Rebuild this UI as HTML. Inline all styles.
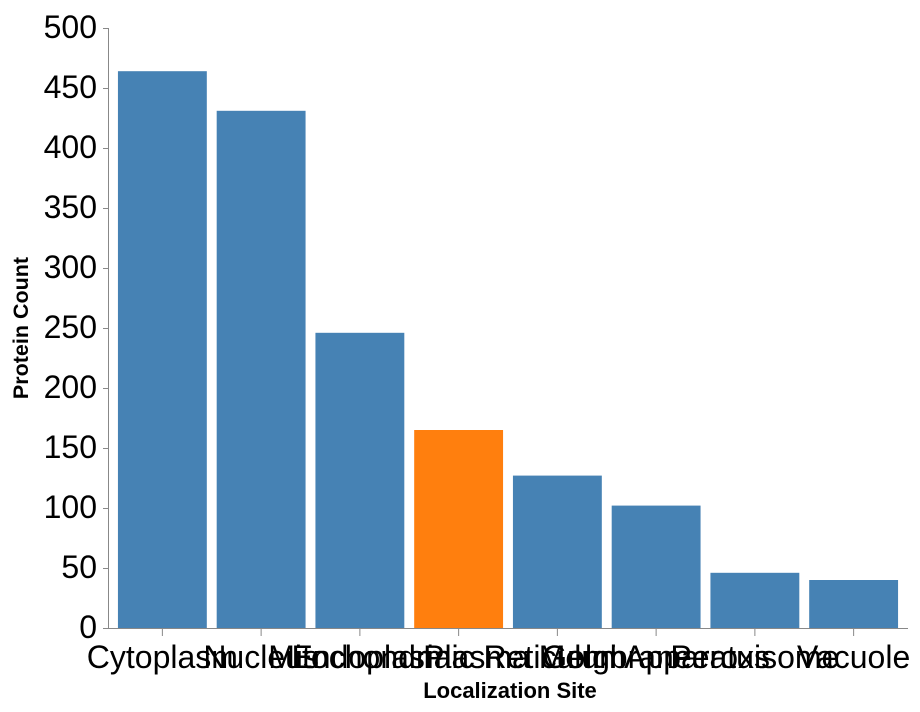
<!DOCTYPE html>
<html><head><meta charset="utf-8"><style>
html,body{margin:0;padding:0;background:#fff;}
svg{display:block;font-family:"Liberation Sans",Arial,sans-serif;}
</style></head><body>
<svg id="chart" width="920" height="712"></svg>
<script>
const categories = ["Cytoplasm","Nucleus","Mitochondria","Endoplasmic Reticulum","Plasma Membrane","Golgi Apparatus","Peroxisome","Vacuole"];
const counts = [464, 431, 246, 165, 127, 102, 46, 40];
const highlight = ["Endoplasmic Reticulum"];
const yTicks = [0,50,100,150,200,250,300,350,400,450,500];

const NS="http://www.w3.org/2000/svg";
const svg=document.getElementById('chart');
const x0=113, x1=903, yTop=28, yBot=628, yMax=500;
const step=(x1-x0)/categories.length, pad=0.1;
const bw=step*(1-pad);
function xBand(i){return x0+step*i+step*pad/2;}
function yScale(v){return yBot-(v/yMax)*(yBot-yTop);}
function mk(tag,attrs,parent){const e=document.createElementNS(NS,tag);for(const k in attrs)e.setAttribute(k,attrs[k]);(parent||svg).appendChild(e);return e;}

const bars=mk('g',{});


categories.forEach((c,i)=>{
  const r=mk('rect',{x:xBand(i),y:yScale(counts[i]),width:bw,height:yBot-yScale(counts[i]),fill:highlight.includes(c)?'#ff7f0e':'#4682b4'},bars);
  
  
});

const yAxis=mk('g',{});


mk('line',{x1:108.5,x2:108.5,y1:yTop,y2:yBot,stroke:'#888'},yAxis);
yTicks.forEach(t=>{
  const y=yScale(t);
  mk('line',{x1:103,x2:108.5,y1:y+0.5,y2:y+0.5,stroke:'#888'},yAxis);
  const tx=mk('text',{x:97,y:y+10,'text-anchor':'end','font-size':32,fill:'#000'},yAxis);
  tx.textContent=t;
  
  
});
const yt=mk('text',{transform:'translate(28,328) rotate(-90)','text-anchor':'middle','font-size':21.5,'font-weight':'bold',fill:'#000'});
yt.textContent='Protein Count';



const xAxis=mk('g',{});


mk('line',{x1:108,x2:908,y1:628.5,y2:628.5,stroke:'#888'},xAxis);
categories.forEach((c,i)=>{
  const cx=xBand(i)+bw/2;
  mk('line',{x1:cx,x2:cx,y1:628.5,y2:636,stroke:'#888'},xAxis);
  const tx=mk('text',{x:cx,y:668,'text-anchor':'middle','font-size':32,fill:'#000'},xAxis);
  tx.textContent=c;
  
  
});
const xt=mk('text',{x:510,y:698,'text-anchor':'middle','font-size':22,'font-weight':'bold',fill:'#000'});
xt.textContent='Localization Site';


</script>
</body></html>
